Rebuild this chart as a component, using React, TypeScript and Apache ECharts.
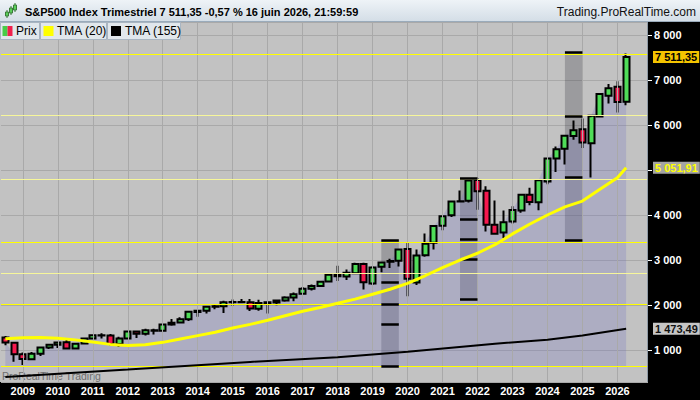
import React, { useEffect, useRef } from "react";
import * as echarts from "echarts";

const FONT = "'Liberation Sans', Arial, sans-serif";

// ---- categories (quarters) ----
const years = [2008, 2009, 2010, 2011, 2012, 2013, 2014, 2015, 2016, 2017, 2018, 2019, 2020, 2021, 2022, 2023, 2024, 2025, 2026];
const quarterNames = ["Q1", "Q2", "Q3", "Q4"];
const categories: string[] = [];
years.forEach((y) => quarterNames.forEach((q) => categories.push(`${y} ${q}`)));
categories.splice(0, 2); // starts at 2008 Q3, ends at 2026 Q4

// ---- quarterly prices [open, high, low, close], 2008 Q3 .. 2026 Q2 ----
const prices: [number, number, number, number][] = [
  [1280, 1313, 1106, 1166], [1164, 1167, 741, 903],
  [903, 943, 667, 798], [797, 956, 783, 919], [919, 1080, 869, 1057], [1057, 1130, 1020, 1115],
  [1116, 1180, 1044, 1169], [1171, 1220, 1011, 1031], [1031, 1149, 1010, 1141], [1143, 1263, 1131, 1258],
  [1258, 1344, 1249, 1326], [1329, 1371, 1258, 1321], [1320, 1357, 1101, 1131], [1131, 1293, 1075, 1258],
  [1258, 1420, 1258, 1409], [1409, 1422, 1267, 1362], [1362, 1475, 1325, 1441], [1441, 1470, 1343, 1426],
  [1426, 1570, 1426, 1569], [1569, 1687, 1537, 1606], [1610, 1730, 1605, 1682], [1681, 1849, 1647, 1848],
  [1846, 1884, 1738, 1872], [1873, 1968, 1814, 1960], [1960, 2019, 1904, 1972], [1971, 2094, 1821, 2059],
  [2059, 2120, 1981, 2068], [2067, 2135, 2049, 2063], [2060, 2133, 1867, 1920], [1919, 2116, 1872, 2044],
  [2039, 2073, 1810, 2060], [2057, 2121, 1992, 2099], [2099, 2194, 2074, 2168], [2165, 2278, 2084, 2239],
  [2251, 2401, 2245, 2363], [2364, 2454, 2322, 2423], [2424, 2520, 2405, 2519], [2521, 2695, 2520, 2674],
  [2683, 2873, 2533, 2641], [2633, 2791, 2554, 2718], [2704, 2940, 2698, 2914], [2910, 2940, 2347, 2507],
  [2476, 2860, 2444, 2834], [2848, 2964, 2729, 2942], [2964, 3028, 2822, 2977], [2983, 3248, 2855, 3231],
  [3245, 3393, 2192, 2585], [2498, 3233, 2447, 3100], [3105, 3588, 3073, 3363], [3385, 3760, 3233, 3756],
  [3764, 3983, 3662, 3973], [3992, 4302, 3956, 4298], [4300, 4546, 4279, 4308], [4317, 4808, 4278, 4766],
  [4778, 4818, 4115, 4530], [4540, 4637, 3636, 3785], [3781, 4325, 3584, 3586], [3609, 4100, 3491, 3840],
  [3853, 4195, 3809, 4109], [4102, 4458, 4049, 4450], [4450, 4608, 4216, 4288], [4285, 4793, 4104, 4770],
  [4745, 5264, 4682, 5254], [5258, 5524, 4953, 5460], [5471, 5767, 5120, 5762], [5757, 6100, 5674, 5882],
  [5903, 6147, 5489, 5612], [5597, 6174, 4835, 6205], [6187, 6700, 6173, 6688], [6650, 6911, 6480, 6815],
  [6850, 6975, 6280, 6510], [6515, 7590, 6440, 7511.35],
];

// ---- shaded price area (top values), base level ----
const areaTop: number[] = [
  1166, 903, 798, 919, 1057, 1115, 1169, 1031, 1141, 1258, 1326, 1321, 1131, 1258, 1409, 1362, 1441, 1426,
  1569, 1606, 1682, 1848, 1872, 1960, 1972, 2059, 2068, 2063, 1920, 2044, 2060, 2099, 2168, 2239, 2363, 2423,
  2519, 2674, 2641, 2718, 2914, 2507, 2834, 2942, 2977, 3231, 2585, 3100, 3363, 3756, 3973, 4298, 4308, 4766,
  4530, 3785, 3586, 3840, 4109, 4450, 4288, 4770, 5254, 5460, 5762, 5882, 5612, 6205, 6688, 6815, 6510, 6515,
];
const areaBase = 644;

// ---- TMA (20) and TMA (155) readings ----
const tma20: [string, number][] = [
  ["2008 Q3", 1250], ["2009 Q1", 1275], ["2009 Q3", 1280], ["2010 Q1", 1260], ["2010 Q3", 1225],
  ["2011 Q1", 1180], ["2011 Q3", 1125], ["2012 Q1", 1100], ["2012 Q3", 1115], ["2013 Q1", 1170],
  ["2013 Q3", 1245], ["2014 Q1", 1320], ["2014 Q3", 1395], ["2015 Q1", 1490], ["2015 Q3", 1570],
  ["2016 Q1", 1660], ["2016 Q3", 1760], ["2017 Q1", 1860], ["2017 Q3", 1945], ["2018 Q1", 2040],
  ["2018 Q3", 2130], ["2019 Q1", 2240], ["2019 Q3", 2350], ["2020 Q1", 2480], ["2020 Q3", 2650],
  ["2021 Q1", 2830], ["2021 Q3", 3000], ["2022 Q1", 3150], ["2022 Q3", 3340], ["2023 Q1", 3580],
  ["2023 Q3", 3800], ["2024 Q1", 4000], ["2024 Q3", 4180], ["2025 Q1", 4310], ["2025 Q3", 4570],
  ["2026 Q1", 4830], ["2026 Q2", 5051.91],
];
const tma155: [string, number][] = [
  ["2008 Q3", 400], ["2012 Q1", 565], ["2015 Q3", 735], ["2018 Q1", 840], ["2020 Q1", 960],
  ["2022 Q3", 1140], ["2024 Q1", 1230], ["2025 Q1", 1320], ["2026 Q2", 1473.49],
];

// ---- horizontal yellow levels ----
const strongLevels = [7578, 3389, 2022, 644];
const softLevels = [6222, 4800, 2711];

// ---- dark zones: [first quarter, last quarter, top, bottom, inner bars] ----
const zones: { from: string; to: string; top: number; bottom: number; bars: number[] }[] = [
  { from: "2019 Q2", to: "2019 Q4", top: 3444, bottom: 629, bars: [2496, 2022, 1575] },
  { from: "2021 Q3", to: "2022 Q1", top: 4818, bottom: 2130, bars: [3908, 3463, 3018] },
  { from: "2024 Q3", to: "2025 Q1", top: 7607, bottom: 3436, bars: [6184, 4829] },
];

// axis label hidden behind the TMA (20) value box in the reference
const hiddenTick = 5000;

const yearLines = categories.filter((c) => c.endsWith("Q1") && c !== "2008 Q1");

function fmt(v: number, d: number): string {
  const s = v.toFixed(d);
  const [i, f] = s.split(".");
  const ii = i.replace(/\B(?=(\d{3})+(?!\d))/g, " ");
  return f ? ii + "," + f : ii;
}

export default function App() {
  const ref = useRef<HTMLDivElement>(null);
  useEffect(() => {
    if (!ref.current) return;
    const chart = echarts.init(ref.current, undefined, { renderer: "svg" });
    const nulls = categories.map(() => null);
    const last = prices[prices.length - 1];
    const lastTma20 = tma20[tma20.length - 1][1];
    const lastTma155 = tma155[tma155.length - 1][1];

    const valueLabel = (v: number, color: string, bg: string) => ({
      silent: true,
      symbol: ["none", "none"],
      lineStyle: { color: "rgba(0,0,0,0)", width: 0 },
      label: {
        show: true,
        position: "end",
        distance: 5,
        formatter: fmt(v, 2),
        color,
        backgroundColor: bg,
        padding: [1, 2, 0, 2],
        fontSize: 11,
        fontWeight: "bold",
        fontFamily: FONT,
      },
      data: [{ yAxis: v }],
    });

    const zoneAreas = zones.map((z) => [
      { xAxis: z.from, yAxis: z.top },
      { xAxis: z.to, yAxis: z.bottom },
    ]);
    const zoneBars: any[] = [];
    zones.forEach((z) => {
      [z.top, ...z.bars, z.bottom].forEach((v) => {
        zoneBars.push([{ xAxis: z.from, yAxis: v }, { xAxis: z.to, yAxis: v }]);
      });
    });

    const option: any = {
      animation: false,
      backgroundColor: "#000",
      textStyle: { fontFamily: FONT },
      grid: { left: 1, right: 52, top: 22, bottom: 18, containLabel: false },
      xAxis: {
        type: "category",
        data: categories,
        boundaryGap: true,
        axisLine: { show: false },
        axisTick: { show: false },
        splitLine: { show: false },
        axisLabel: {
          interval: (_i: number, v: string) => v.endsWith("Q1") && v !== "2008 Q1",
          formatter: (v: string) => v.slice(0, 4),
          color: "#fff",
          fontWeight: "bold",
          fontSize: 11,
          fontFamily: FONT,
          margin: 3,
        },
      },
      yAxis: {
        type: "value",
        position: "right",
        min: 289,
        max: 8289,
        splitNumber: 8,
        minInterval: 1000,
        maxInterval: 1000,
        axisLine: { show: false },
        axisTick: { show: true, length: 4, lineStyle: { color: "#fff", width: 1 } },
        axisLabel: {
          color: "#fff",
          fontWeight: "bold",
          fontSize: 11,
          fontFamily: FONT,
          margin: 6,
          showMinLabel: false,
          showMaxLabel: false,
          formatter: (v: number) => (v === hiddenTick ? "" : fmt(v, 0)),
        },
        splitLine: { show: true, lineStyle: { color: "#a9a9a9", width: 1 } },
      },
      graphic: [
        { type: "rect", z: -10, silent: true, shape: { x: 0, y: 22, width: 647, height: 360 }, style: { fill: "#c2c2c2" } },
        { type: "line", z: 10, silent: true, shape: { x1: 647.5, y1: 22, x2: 647.5, y2: 382 }, style: { stroke: "#8e9aa6", lineWidth: 1 } },
        {
          type: "rect", z: 10, silent: true, shape: { x: 0, y: 0, width: 700, height: 22 },
          style: {
            fill: new echarts.graphic.LinearGradient(0, 0, 0, 1, [
              { offset: 0, color: "#eef3f7" },
              { offset: 1, color: "#d3dde6" },
            ]),
          },
        },
        { type: "line", z: 10, silent: true, shape: { x1: 0, y1: 21.5, x2: 700, y2: 21.5 }, style: { stroke: "#9aabbb", lineWidth: 1 } },
        // title icon
        { type: "line", z: 11, silent: true, shape: { x1: 7, y1: 10, x2: 7, y2: 18 }, style: { stroke: "#3a7a3a", lineWidth: 1 } },
        { type: "rect", z: 12, silent: true, shape: { x: 5.5, y: 12, width: 3, height: 4 }, style: { fill: "#5ad05a", stroke: "#3a7a3a", lineWidth: 1 } },
        { type: "line", z: 11, silent: true, shape: { x1: 11, y1: 6, x2: 11, y2: 15 }, style: { stroke: "#3a7a3a", lineWidth: 1 } },
        { type: "rect", z: 12, silent: true, shape: { x: 9.5, y: 8, width: 3, height: 5 }, style: { fill: "#5ad05a", stroke: "#3a7a3a", lineWidth: 1 } },
        { type: "line", z: 11, silent: true, shape: { x1: 15, y1: 3, x2: 15, y2: 12 }, style: { stroke: "#3a7a3a", lineWidth: 1 } },
        { type: "rect", z: 12, silent: true, shape: { x: 13.5, y: 5, width: 3, height: 5 }, style: { fill: "#5ad05a", stroke: "#3a7a3a", lineWidth: 1 } },
        {
          type: "text", z: 12, silent: true, x: 25, y: 12,
          style: {
            text: "S&P500 Index Trimestriel 7 511,35 -0,57 % 16 juin 2026, 21:59:59",
            fill: "#000", fontSize: 11, fontWeight: "bold", fontFamily: FONT, verticalAlign: "middle", align: "left",
          },
        },
        {
          type: "text", z: 12, silent: true, x: 696, y: 12,
          style: { text: "Trading.ProRealTime.com", fill: "#111", fontSize: 12, fontFamily: FONT, verticalAlign: "middle", align: "right" },
        },
        // legend boxes
        { type: "rect", z: 10, silent: true, shape: { x: 0.5, y: 22.5, width: 39, height: 17 }, style: { fill: "#e1e7ec", stroke: "#a9b5c1", lineWidth: 1 } },
        { type: "rect", z: 11, silent: true, shape: { x: 2.5, y: 26, width: 5, height: 10 }, style: { fill: "#48cc48" } },
        { type: "rect", z: 11, silent: true, shape: { x: 7.5, y: 26, width: 5, height: 10 }, style: { fill: "#f0204c" } },
        { type: "text", z: 11, silent: true, x: 16, y: 31, style: { text: "Prix", fill: "#000", fontSize: 12, fontFamily: FONT, verticalAlign: "middle" } },
        { type: "rect", z: 10, silent: true, shape: { x: 40.5, y: 22.5, width: 66, height: 17 }, style: { fill: "#e1e7ec", stroke: "#a9b5c1", lineWidth: 1 } },
        { type: "rect", z: 11, silent: true, shape: { x: 43.5, y: 26, width: 10, height: 10 }, style: { fill: "#ffff00" } },
        { type: "text", z: 11, silent: true, x: 57, y: 31, style: { text: "TMA (20)", fill: "#000", fontSize: 12, fontFamily: FONT, verticalAlign: "middle" } },
        { type: "rect", z: 10, silent: true, shape: { x: 107.5, y: 22.5, width: 73, height: 17 }, style: { fill: "#e1e7ec", stroke: "#a9b5c1", lineWidth: 1 } },
        { type: "rect", z: 11, silent: true, shape: { x: 111, y: 26, width: 10, height: 10 }, style: { fill: "#000" } },
        { type: "text", z: 11, silent: true, x: 125, y: 31, style: { text: "TMA (155)", fill: "#000", fontSize: 12, fontFamily: FONT, verticalAlign: "middle" } },
        // watermark
        { type: "text", z: 1, silent: true, x: 2, y: 376, style: { text: "ProRealTime Trading", fill: "#6e6e6e", fontSize: 10.5, fontFamily: FONT, verticalAlign: "middle" } },
      ],
      series: [
        {
          name: "grid",
          type: "line",
          data: nulls,
          z: 1,
          silent: true,
          symbol: "none",
          markLine: {
            silent: true,
            symbol: ["none", "none"],
            label: { show: false },
            lineStyle: { color: "#a9a9a9", width: 1, type: "solid" },
            data: yearLines.map((c) => ({ xAxis: c })),
          },
        },
        {
          name: "area",
          type: "line",
          data: areaTop,
          z: 2,
          silent: true,
          symbol: "none",
          lineStyle: { width: 0 },
          areaStyle: { color: "rgba(111,111,197,0.36)", origin: areaBase },
        },
        {
          name: "levels",
          type: "line",
          data: nulls,
          z: 2.5,
          silent: true,
          symbol: "none",
          markLine: {
            silent: true,
            symbol: ["none", "none"],
            label: { show: false },
            data: [
              ...strongLevels.map((v) => ({ yAxis: v, lineStyle: { color: "#ffff00", width: 1.2, type: "solid" } })),
              ...softLevels.map((v) => ({ yAxis: v, lineStyle: { color: "#f6f69a", width: 1, type: "solid" } })),
            ],
          },
        },
        {
          name: "zones",
          type: "line",
          data: nulls,
          z: 3,
          silent: true,
          symbol: "none",
          markArea: {
            silent: true,
            itemStyle: { color: "rgba(40,40,50,0.25)" },
            data: zoneAreas,
          },
          markLine: {
            silent: true,
            symbol: ["none", "none"],
            label: { show: false },
            lineStyle: { color: "#000", width: 2.5, type: "solid" },
            data: zoneBars,
          },
        },
        {
          name: "Prix",
          type: "candlestick",
          data: prices.map(([o, h, l, c]) => [o, c, l, h]),
          z: 4,
          barWidth: 6.5,
          itemStyle: {
            color: "#4fdc58",
            color0: "#f5184e",
            borderColor: "#000",
            borderColor0: "#000",
            borderWidth: 2,
          },
          markLine: valueLabel(last[3], "#000", "#f4c400"),
        },
        {
          name: "TMA (20)",
          type: "line",
          data: tma20,
          z: 5,
          symbol: "none",
          silent: true,
          lineStyle: { color: "#ffff00", width: 3 },
          markLine: valueLabel(lastTma20, "#ffff00", "#a4a4a4"),
        },
        {
          name: "TMA (155)",
          type: "line",
          data: tma155,
          z: 5,
          symbol: "none",
          silent: true,
          lineStyle: { color: "#000", width: 2 },
          markLine: valueLabel(lastTma155, "#111", "#c6c6c6"),
        },
      ],
    };
    chart.setOption(option);
    return () => chart.dispose();
  }, []);
  return <div ref={ref} style={{ position: "fixed", left: 0, top: 0, width: 700, height: 400 }} />;
}
